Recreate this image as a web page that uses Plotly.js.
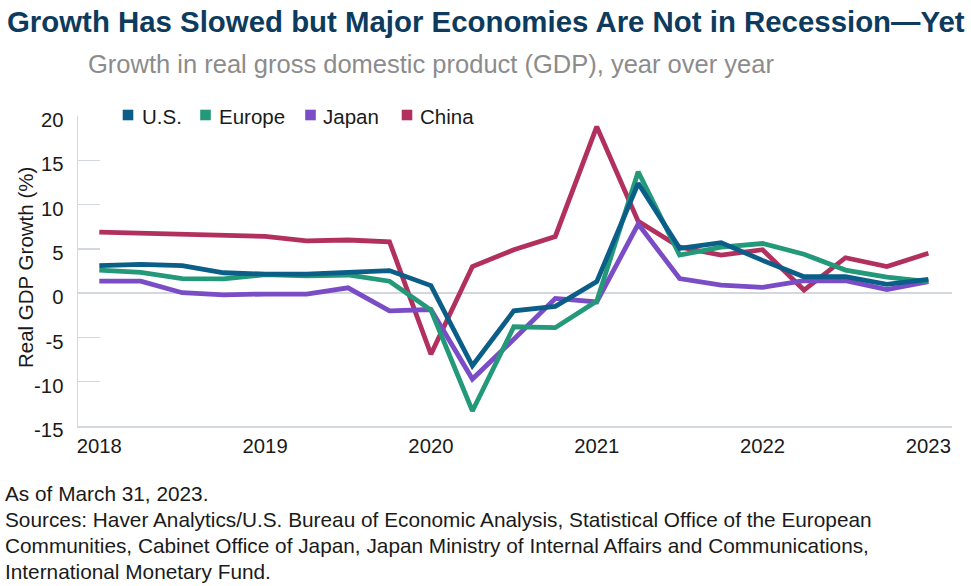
<!DOCTYPE html>
<html>
<head>
<meta charset="utf-8">
<script src="https://cdn.plot.ly/plotly-3.0.1.min.js"></script>
<style>
html,body{margin:0;padding:0;background:#fff;}
#chart{width:971px;height:586px;}
</style>
</head>
<body>
<div id="chart"></div>
<script>
// ---- data ----
var quarters = ["2018 Q1","2018 Q2","2018 Q3","2018 Q4",
                "2019 Q1","2019 Q2","2019 Q3","2019 Q4",
                "2020 Q1","2020 Q2","2020 Q3","2020 Q4",
                "2021 Q1","2021 Q2","2021 Q3","2021 Q4",
                "2022 Q1","2022 Q2","2022 Q3","2022 Q4",
                "2023 Q1"];
var usGDP     = [3.1, 3.25, 3.1, 2.3, 2.15, 2.15, 2.35, 2.55, 0.85, -8.2, -2.0, -1.5, 1.3, 12.4, 5.05, 5.7, 3.7, 1.85, 1.85, 1.0, 1.55];
var europeGDP = [2.6, 2.35, 1.65, 1.6, 2.1, 1.95, 2.05, 1.35, -1.9, -13.3, -3.8, -3.9, -0.9, 13.7, 4.3, 5.2, 5.6, 4.4, 2.6, 1.8, 1.3];
var japanGDP  = [1.35, 1.35, 0.05, -0.2, -0.1, -0.1, 0.6, -2.0, -1.85, -9.7, -5.2, -0.6, -1.0, 7.8, 1.65, 0.9, 0.65, 1.4, 1.4, 0.4, 1.3];
var chinaGDP  = [6.9, 6.8, 6.7, 6.5, 6.4, 5.9, 6.0, 5.8, -6.9, 3.0, 4.9, 6.4, 18.8, 8.1, 5.2, 4.3, 4.9, 0.35, 4.0, 3.0, 4.5];
var seriesNames = ["U.S.", "Europe", "Japan", "China"];
var yearTickVals = ["2018 Q1","2019 Q1","2020 Q1","2021 Q1","2022 Q1","2023 Q1"];
var yearTickText = ["2018","2019","2020","2021","2022","2023"];
var yTickVals = [-15,-10,-5,0,5,10,15,20];
var noteLines = [
  "As of March 31, 2023.",
  "Sources: Haver Analytics/U.S. Bureau of Economic Analysis, Statistical Office of the European",
  "Communities, Cabinet Office of Japan, Japan Ministry of Internal Affairs and Communications,",
  "International Monetary Fund."
];

// ---- styles / layout helpers ----
var colors = {"U.S.":"#0b5e87","Europe":"#23997a","Japan":"#7a4cc5","China":"#b1305e"};
var valuesByName = {"U.S.":usGDP,"Europe":europeGDP,"Japan":japanGDP,"China":chinaGDP};
var font = "'Liberation Sans', Arial, Helvetica, sans-serif";
var PL = 78, PW = 874, PB = 426, PH = 310;           // plot area in pixels
function px2x(px){ return (px - PL) / PW; }
function px2y(py){ return (PB - py) / PH; }

var traces = [];
["China","Japan","Europe","U.S."].forEach(function(n){
  traces.push({
    x: quarters, y: valuesByName[n], type:"scatter", mode:"lines", name:n,
    line:{color:colors[n], width:4.8}, showlegend:false
  });
});

// custom legend (square key + label)
var legendSquareX = [128, 205.5, 310.5, 407];
var legendTextX = [142, 219, 323, 420];
var legendY = 115;
var shapes = [], annotations = [];
seriesNames.forEach(function(n, i){
  var h = 5.3;
  shapes.push({type:"rect", xref:"paper", yref:"paper",
    x0:px2x(legendSquareX[i]-h), x1:px2x(legendSquareX[i]+h),
    y0:px2y(legendY+h), y1:px2y(legendY-h),
    fillcolor:colors[n], line:{width:0}});
  annotations.push({text:n, xref:"paper", yref:"paper", x:px2x(legendTextX[i]-2), y:px2y(legendY+1),
    xanchor:"left", yanchor:"middle", showarrow:false,
    font:{family:font, size:20.5, color:"#1a1a1a"}});
});

annotations.push({text:"Growth in real gross domestic product (GDP), year over year",
  xref:"paper", yref:"paper", x:px2x(86), y:px2y(64), xanchor:"left", yanchor:"middle",
  showarrow:false, font:{family:font, size:25.5, color:"#8c8c8c"}});

// y-axis title
annotations.push({text:"Real GDP Growth (%)", xref:"paper", yref:"paper",
  x:px2x(25), y:px2y(268), xanchor:"center", yanchor:"middle", textangle:-90,
  showarrow:false, font:{family:font, size:20.5, color:"#1a1a1a"}});

noteLines.forEach(function(t, i){
  annotations.push({text:t, xref:"paper", yref:"paper", x:px2x(3), y:px2y(493 + 26*i),
    xanchor:"left", yanchor:"middle", showarrow:false,
    font:{family:font, size:20.8, color:"#1a1a1a"}});
});

var layout = {
  width:971, height:586,
  margin:{l:PL, r:971-PL-PW, t:PB-PH, b:586-PB, pad:0},
  paper_bgcolor:"#fff", plot_bgcolor:"#fff",
  font:{family:font, size:20, color:"#1a1a1a"},
  title:{
    text:"Growth Has Slowed but Major Economies Are Not in Recession\u2014Yet",
    font:{family:font, size:29.4, weight:"bold", color:"#0d3b5e"},
    x:7/971, xanchor:"left", xref:"container",
    y:1-22/586, yanchor:"middle", yref:"container"
  },
  showlegend:false,
  xaxis:{
    type:"category", categoryorder:"array", categoryarray:quarters,
    range:[-0.514, 20.57],
    tickvals:yearTickVals, ticktext:yearTickText,
    showgrid:false, zeroline:false,
    showline:true, linecolor:"#d3d8df", linewidth:1.5,
    ticks:"", ticklabelstandoff:1,
    tickfont:{family:font, size:20.3, color:"#1a1a1a"},
    fixedrange:true
  },
  yaxis:{
    range:[-15,20], tickvals:yTickVals, ticktext:yTickVals.map(String),
    showgrid:false,
    zeroline:true, zerolinecolor:"#d3d8df", zerolinewidth:1.5,
    showline:true, linecolor:"#d3d8df", linewidth:1.5,
    ticks:"inside", ticklen:22, tickwidth:1.5, tickcolor:"#d3d8df",
    ticklabelstandoff:9, ticklabelshift:4,
    tickfont:{family:font, size:20.3, color:"#1a1a1a"},
    fixedrange:true
  },
  shapes:shapes,
  annotations:annotations
};

Plotly.newPlot("chart", traces, layout, {displayModeBar:false, staticPlot:true});
</script>
</body>
</html>
